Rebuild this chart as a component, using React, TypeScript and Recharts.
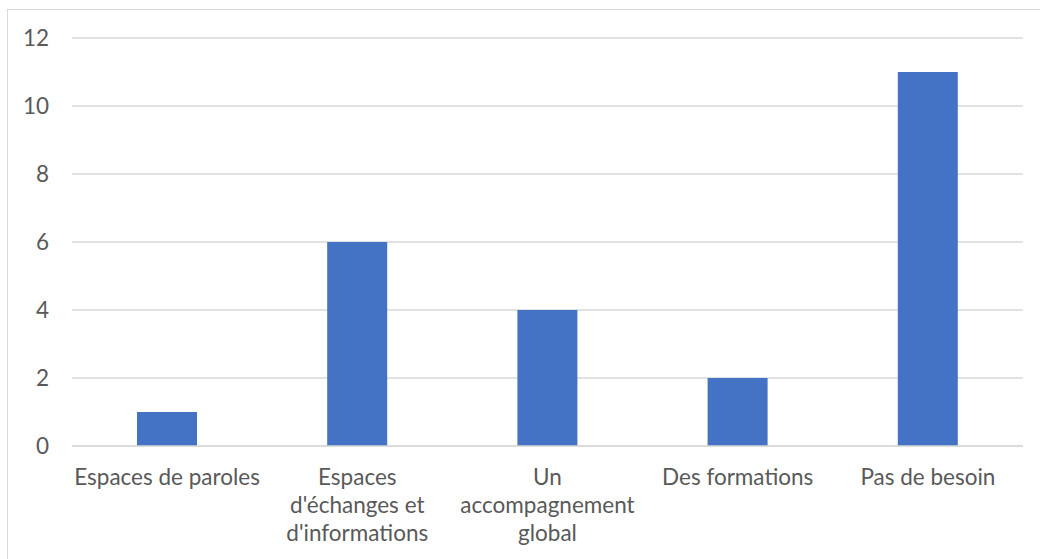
import React from "react";
import { BarChart, Bar, XAxis, YAxis, CartesianGrid } from "recharts";

const categories = [
  "Espaces de paroles",
  "Espaces\nd'échanges et\nd'informations",
  "Un\naccompagnement\nglobal",
  "Des formations",
  "Pas de besoin",
];
const values = [1, 6, 4, 2, 11];
const yTicks = [0, 2, 4, 6, 8, 10, 12];

const data = categories.map((c, i) => ({ name: c, value: values[i] }));

const FONT = "Lato, 'Open Sans', sans-serif";
const FS = 22.5;
const TEXT = "#595959";

const XTick = (props: any) => {
  const { x, y, payload } = props;
  const lines = String(payload.value).split("\n");
  return (
    <text x={x} y={y} textAnchor="middle" fill={TEXT} fontFamily={FONT} fontSize={FS}>
      {lines.map((l: string, i: number) => (
        <tspan key={i} x={x} dy={i === 0 ? 39 : 28}>
          {l}
        </tspan>
      ))}
    </text>
  );
};

export default function App() {
  return (
    <div style={{ position: "fixed", inset: 0, overflow: "hidden", background: "#fff" }}>
      <div
        style={{
          position: "absolute",
          left: 7,
          top: 9,
          width: 1100,
          height: 600,
          border: "1px solid #D9D9D9",
          background: "#fff",
        }}
      >
        <BarChart
          width={1100}
          height={560}
          data={data}
          margin={{ top: 28, right: 85, bottom: 24, left: 0 }}
        >
          <CartesianGrid vertical={false} stroke="#D9D9D9" strokeWidth={1.5} />
          <XAxis
            dataKey="name"
            axisLine={{ stroke: "#D9D9D9", strokeWidth: 1.5 }}
            tickLine={false}
            tickSize={0}
            tickMargin={0}
            height={100}
            interval={0}
            tick={<XTick />}
          />
          <YAxis
            domain={[0, 12]}
            ticks={yTicks}
            width={64}
            axisLine={false}
            tickLine={false}
            tickSize={0}
            tickMargin={23}
            tick={{ fill: TEXT, fontFamily: FONT, fontSize: FS }}
            interval={0}
          />
          <Bar dataKey="value" fill="#4472C4" barSize={60} isAnimationActive={false} />
        </BarChart>
      </div>
    </div>
  );
}
